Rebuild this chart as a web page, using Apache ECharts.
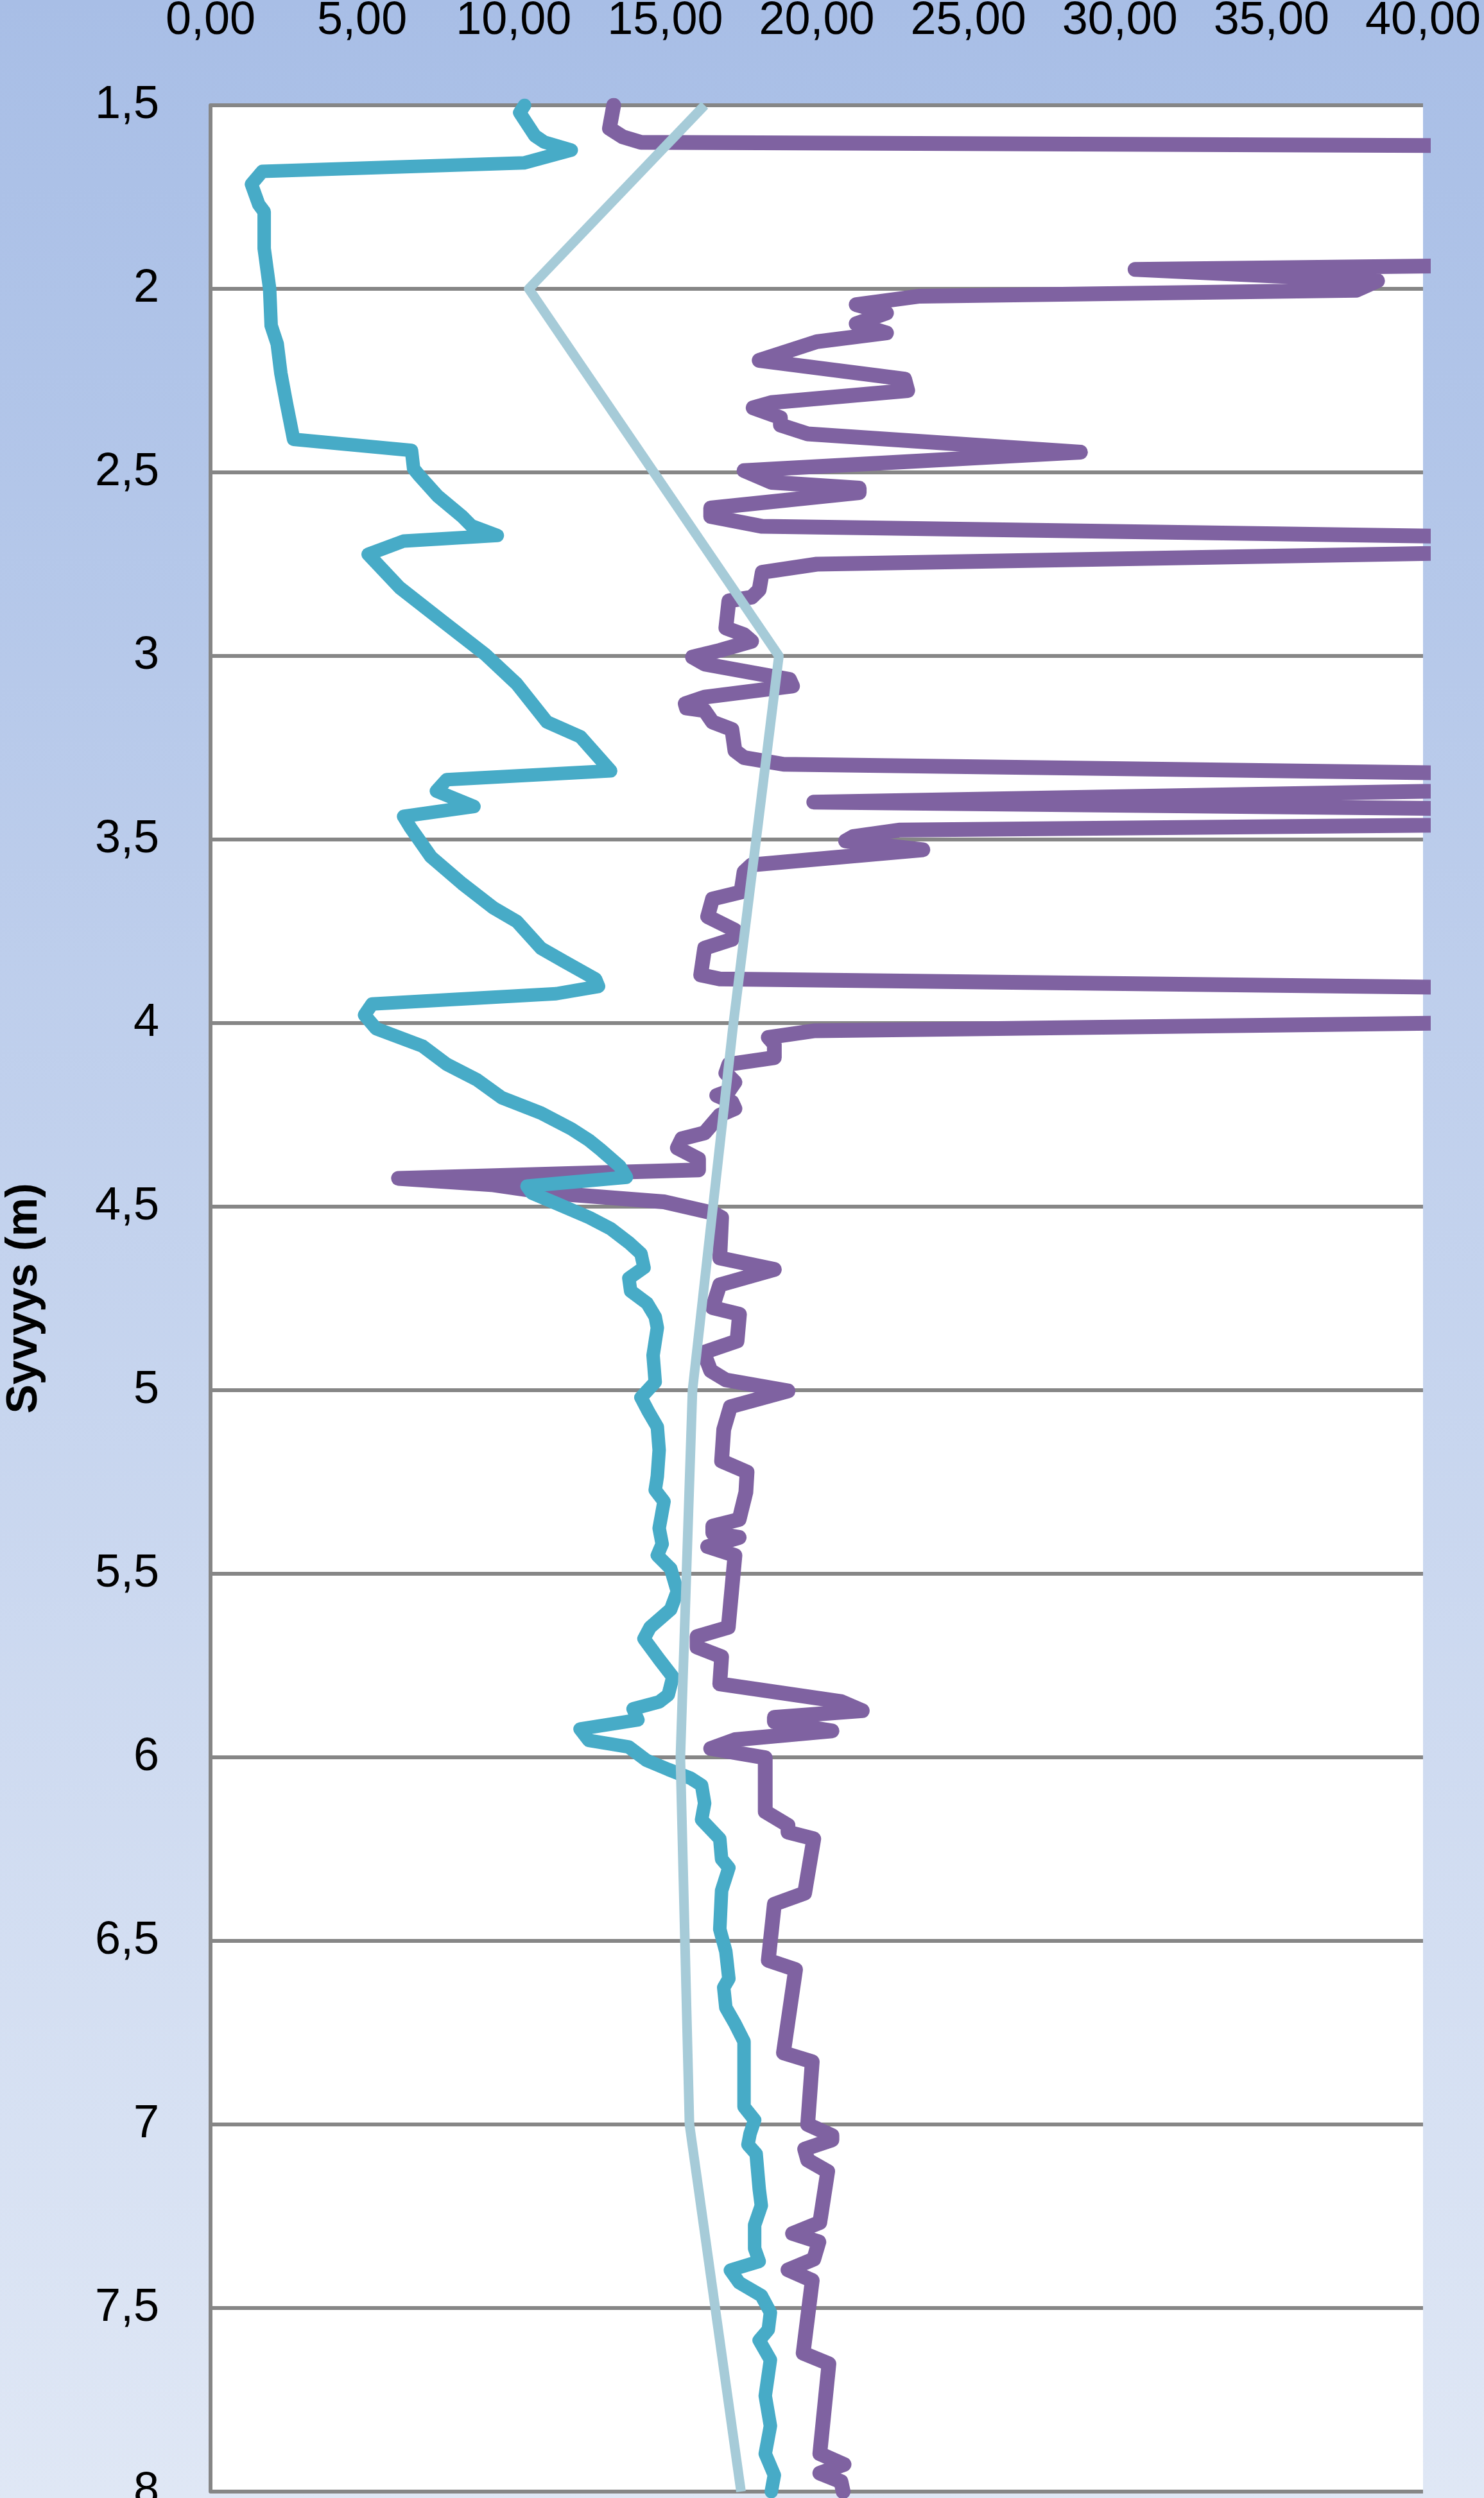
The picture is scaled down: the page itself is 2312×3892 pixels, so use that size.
<!DOCTYPE html>
<html>
<head>
<meta charset="utf-8">
<script src="https://cdn.jsdelivr.net/npm/echarts@6/dist/echarts.min.js"></script>
<style>
html,body{margin:0;padding:0;}
#c{width:2312px;height:3892px;}
</style>
</head>
<body>
<div id="c"></div>
<script>
// ---- Data (value, depth) ----
const xTicks = [0, 5, 10, 15, 20, 25, 30, 35, 40];
const yTicks = [1.5, 2, 2.5, 3, 3.5, 4, 4.5, 5, 5.5, 6, 6.5, 7, 7.5, 8];

const tealDepth = [1.50,1.52,1.583,1.60,1.622,1.657,1.68,1.715,1.77,1.79,1.89,2.00,2.10,2.15,2.23,2.31,2.41,2.44,2.49,2.51,2.565,2.62,2.645,2.672,2.687,2.723,2.814,2.905,2.997,3.076,3.18,3.22,3.313,3.337,3.368,3.41,3.437,3.468,3.547,3.62,3.686,3.723,3.796,3.832,3.88,3.90,3.92,3.948,3.978,4.015,4.063,4.112,4.155,4.203,4.245,4.288,4.32,4.347,4.39,4.42,4.444,4.463,4.493,4.53,4.56,4.598,4.628,4.666,4.695,4.73,4.763,4.80,4.83,4.905,4.978,5.02,5.059,5.10,5.163,5.234,5.272,5.303,5.376,5.419,5.45,5.486,5.548,5.597,5.646,5.677,5.733,5.781,5.83,5.849,5.868,5.898,5.923,5.954,5.972,6.008,6.033,6.057,6.076,6.125,6.17,6.222,6.277,6.301,6.363,6.468,6.529,6.603,6.627,6.682,6.725,6.774,6.952,6.988,7.025,7.055,7.08,7.175,7.221,7.274,7.338,7.373,7.397,7.431,7.466,7.512,7.559,7.588,7.641,7.739,7.821,7.897,7.955,8.0];
const tealValue = [10.36,10.2,10.7,11.0,11.9,10.34,1.71,1.35,1.59,1.77,1.77,1.95,2.0,2.2,2.32,2.5,2.74,6.63,6.7,6.9,7.5,8.3,8.6,9.46,6.37,5.2,6.24,7.65,9.08,10.1,11.1,12.2,13.2,7.79,7.45,8.69,6.37,6.6,7.27,8.3,9.33,10.1,10.9,11.66,12.7,12.8,11.4,5.33,5.08,5.46,7.0,7.79,8.8,9.6,10.9,11.9,12.5,12.9,13.5,13.72,10.44,10.6,11.46,12.5,13.2,13.8,14.2,14.3,13.8,13.86,14.4,14.67,14.74,14.6,14.67,14.2,14.45,14.74,14.8,14.74,14.67,14.96,14.8,14.9,14.74,15.18,15.4,15.18,14.5,14.3,14.8,15.25,15.1,14.8,13.94,14.1,12.19,12.48,13.8,14.38,15.1,15.84,16.2,16.3,16.2,16.8,16.86,17.1,16.86,16.8,17.0,17.1,16.93,17.0,17.3,17.6,17.6,17.95,17.8,17.73,18.0,18.1,18.17,17.95,17.95,18.1,17.15,17.44,18.17,18.47,18.4,18.1,18.47,18.3,18.47,18.3,18.6,18.5];

const purpleDepth = [1.50,1.563,1.586,1.601,1.625,1.70,1.80,1.90,1.947,1.978,2.004,2.02,2.043,2.066,2.095,2.12,2.144,2.195,2.246,2.277,2.31,2.324,2.351,2.371,2.395,2.445,2.495,2.527,2.543,2.555,2.597,2.62,2.647,2.695,2.75,2.772,2.82,2.84,2.85,2.924,2.942,2.96,2.985,3.003,3.022,3.064,3.082,3.112,3.13,3.142,3.149,3.18,3.20,3.258,3.277,3.295,3.34,3.398,3.44,3.474,3.492,3.504,3.516,3.528,3.569,3.588,3.643,3.662,3.71,3.747,3.772,3.796,3.869,3.88,3.93,3.97,4.021,4.039,4.057,4.094,4.112,4.136,4.161,4.185,4.197,4.215,4.233,4.251,4.299,4.315,4.34,4.37,4.40,4.423,4.44,4.463,4.487,4.518,4.53,4.64,4.671,4.713,4.775,4.793,4.866,4.897,4.947,4.972,5.002,5.045,5.107,5.193,5.223,5.278,5.352,5.37,5.389,5.401,5.426,5.45,5.646,5.671,5.70,5.726,5.80,5.848,5.873,5.891,5.903,5.928,5.952,5.976,6.001,6.148,6.185,6.204,6.222,6.37,6.40,6.553,6.578,6.805,6.829,7.0,7.03,7.042,7.067,7.097,7.128,7.267,7.297,7.32,7.367,7.396,7.425,7.623,7.652,7.897,7.926,7.95,7.973,8.0];
const purpleValue = [13.3,13.16,13.6,14.2,85,90,88,80,30.5,38.5,37.8,23.4,21.3,22.3,21.3,22.3,20.0,18.1,22.9,23.0,18.5,17.9,18.8,18.8,19.7,28.7,17.6,18.5,21.4,21.4,16.5,16.5,18.2,58,20.0,18.2,18.1,17.85,17.1,17.0,17.6,17.85,16.8,15.9,16.3,19.1,19.2,16.3,15.66,15.7,16.3,16.56,17.2,17.3,17.6,18.9,60,19.9,69.5,22.75,21.2,20.95,22.2,23.5,17.85,17.6,17.5,16.56,16.4,17.3,17.2,16.3,16.17,16.8,70,70,19.9,18.4,18.6,18.6,17.1,17.0,17.3,17.1,16.7,17.2,17.3,16.8,16.3,15.55,15.4,16.1,16.1,6.2,9.27,11.2,14.96,16.6,16.86,16.8,18.6,16.8,16.56,17.45,17.37,16.27,16.5,17.0,19.05,17.15,16.93,16.86,17.7,17.66,17.44,16.57,16.57,17.44,16.4,17.3,17.08,16.05,16.05,16.86,16.8,20.8,21.5,18.6,18.6,20.5,17.3,16.5,18.3,18.3,19.05,19.05,19.9,19.6,18.6,18.4,19.3,18.9,19.85,19.7,20.5,20.5,19.6,19.7,20.36,20.1,19.2,20.07,19.9,19.05,19.85,19.55,20.4,20.1,20.9,20.1,20.8,20.87];

const lightDepth = [1.5, 2, 3, 4, 5, 6, 7, 8];
const lightValue = [16.3, 10.5, 18.75, 17.25, 15.9, 15.5, 15.8, 17.5];

function zip(vals, deps){ return vals.map((v,i)=>[v, deps[i]]); }

const chart = echarts.init(document.getElementById('c'), null, {renderer:'canvas'});
const labelFont = 'Liberation Sans';
chart.setOption({
  animation: false,
  backgroundColor: new echarts.graphic.LinearGradient(0,0,0,1,[
    {offset:0, color:'#a8bee6'},
    {offset:1, color:'#dfe7f5'}
  ]),
  grid: {left:328, top:164, width:1889, height:3718, show:true, backgroundColor:'#ffffff', borderWidth:0,
         containLabel:false, outerBoundsMode:'none'},
  xAxis: {
    type:'value', position:'top', min:xTicks[0], max:xTicks[xTicks.length-1], interval:5,
    axisLine:{show:false}, axisTick:{show:false}, splitLine:{show:false},
    axisLabel:{formatter:v=>v.toFixed(2).replace('.',','), fontSize:72, fontFamily:labelFont, color:'#000', margin:95}
  },
  yAxis: {
    type:'value', inverse:true, min:yTicks[0], max:yTicks[yTicks.length-1], interval:0.5,
    name:'Syvyys (m)', nameLocation:'middle', nameGap:256,
    nameTextStyle:{fontSize:68, fontWeight:'bold', fontFamily:labelFont, color:'#000'},
    axisLine:{show:true, lineStyle:{color:'#868686', width:6}},
    axisTick:{show:false},
    splitLine:{show:true, lineStyle:{color:'#868686', width:6}},
    axisLabel:{formatter:v=>String(v).replace('.',','), fontSize:72, fontFamily:labelFont, color:'#000', margin:80}
  },
  series: [
    {type:'line', name:'purple', data:zip(purpleValue, purpleDepth), symbol:'none', clip:true, z:2,
     lineStyle:{color:'#7f62a1', width:23, join:'round', cap:'round'}},
    {type:'line', name:'teal', data:zip(tealValue, tealDepth), symbol:'none', clip:true, z:3,
     lineStyle:{color:'#47abc7', width:21, join:'round', cap:'round'}},
    {type:'line', name:'light', data:zip(lightValue, lightDepth), symbol:'none', clip:true, z:4,
     lineStyle:{color:'#a6cbd8', width:15, join:'round', cap:'butt'}}
  ]
});
</script>
</body>
</html>
